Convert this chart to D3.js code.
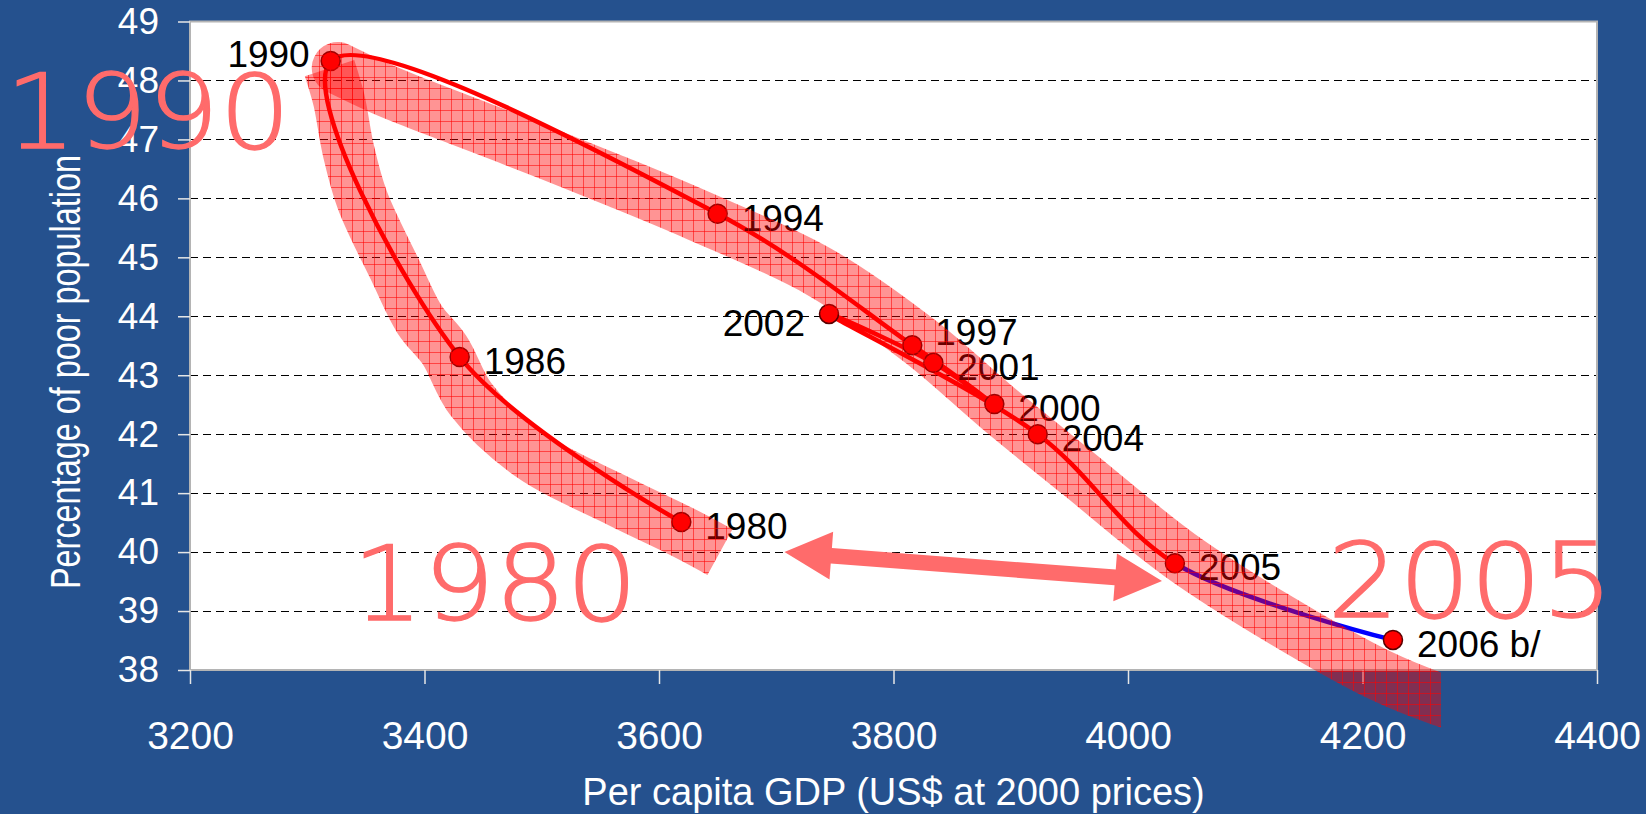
<!DOCTYPE html>
<html>
<head>
<meta charset="utf-8">
<script src="https://cdn.jsdelivr.net/npm/d3@7"></script>
<style>
  body { margin: 0; background: #25518e; }
  svg { display: block; }
</style>
</head>
<body>
<svg id="chart"></svg>
<script>
// Data ////////////////////////////////////////////////////////////////

var years = ["1980", "1986", "1990", "1994", "1997", "2000", "2001", "2002", "2004", "2005", "2006 b/"];
var gdp = [3619, 3430, 3320, 3650, 3816, 3886, 3834, 3745, 3923, 4040, 4226];
var poor = [40.51, 43.31, 48.33, 45.74, 43.51, 42.51, 43.21, 44.04, 42.0, 39.81, 38.51];

var xTicks = [3200, 3400, 3600, 3800, 4000, 4200, 4400];
var yTicks = [38, 39, 40, 41, 42, 43, 44, 45, 46, 47, 48, 49];

// hand drawn highlight (data units)
var bandA = [[3652, 40.0], [3620, 40.34], [3567, 40.85], [3490, 41.65], [3440, 42.58], [3417, 43.43],
             [3396, 43.94], [3375, 44.78], [3347, 45.97], [3335, 46.82], [3327, 47.67], [3319, 48.21]];
var bandB = [[3326, 48.21], [3362, 47.87], [3390, 47.64], [3475, 46.99], [3561, 46.31], [3632, 45.72],
             [3737, 44.75], [3823, 43.57], [3891, 42.41], [3959, 41.31], [4044, 39.95], [4130, 38.85],
             [4215, 37.91], [4267, 37.49], [4300, 37.3]];
var bandBCut = 4267;
var arrowEnds = [[3707, 40.0], [4029, 39.51]];
var bigYears = ["1990", "1980", "2005"];
var bigYearPos = [[3164, 46.85], [3460, 38.85], [4292, 38.9]];

// Setup ////////////////////////////////////////////////////////////////

var width = 1646, height = 814;
var svg = d3.select("#chart").attr("width", width).attr("height", height);

var x = d3.scaleLinear().domain([3200, 4400]).range([190, 1597]);
var y = d3.scaleLinear().domain([38, 49]).range([670, 21.5]);

// Plot area
svg.append("rect")
    .attr("x", x(3200)).attr("y", y(49))
    .attr("width", x(4400) - x(3200)).attr("height", y(38) - y(49))
    .attr("fill", "#fff");

// Gridlines
svg.selectAll(".grid")
    .data(yTicks.slice(1, -1))
    .enter()
    .append("line")
        .attr("x1", x(3200)).attr("x2", x(4400))
        .attr("y1", function(d) { return Math.round(y(d)) + 0.5 })
        .attr("y2", function(d) { return Math.round(y(d)) + 0.5 })
        .attr("stroke", "#000").attr("stroke-width", 1)
        .attr("stroke-dasharray", "8,5");

// Plot border
svg.append("rect")
    .attr("x", x(3200)).attr("y", y(49))
    .attr("width", x(4400) - x(3200)).attr("height", y(38) - y(49))
    .attr("fill", "none").attr("stroke", "#b4b4b4").attr("stroke-width", 2);

// Axes
var yAxis = d3.axisLeft(y).tickValues(yTicks).tickSize(12).tickPadding(19);
var xAxis = d3.axisBottom(x).tickValues(xTicks).tickFormat(d3.format("d")).tickSize(14).tickPadding(37);

var gy = svg.append("g").attr("transform", "translate(" + x(3200) + ",0)").call(yAxis);
var gx = svg.append("g").attr("transform", "translate(0," + y(38) + ")").call(xAxis);
[gy, gx].forEach(function(g) {
    g.select(".domain").remove();
    g.selectAll("line").attr("stroke", "#e6e6e6").attr("stroke-width", 1.5);
    g.selectAll("text").attr("fill", "#fff").attr("font-family", "Liberation Sans, Arial, sans-serif");
});
gy.selectAll("text").attr("font-size", 37);
gx.selectAll("text").attr("font-size", 39);

// Axis titles
svg.append("text")
    .attr("x", (x(3200) + x(4400)) / 2).attr("y", 805)
    .attr("text-anchor", "middle").attr("fill", "#fff")
    .attr("font-family", "Liberation Sans, Arial, sans-serif").attr("font-size", 38)
    .text("Per capita GDP (US$ at 2000 prices)");

svg.append("text")
    .attr("transform", "translate(80,372) rotate(-90)")
    .attr("text-anchor", "middle").attr("fill", "#fff")
    .attr("font-family", "Liberation Sans, Arial, sans-serif").attr("font-size", 42)
    .attr("textLength", 434).attr("lengthAdjust", "spacingAndGlyphs")
    .text("Percentage of poor population");

// Lines ////////////////////////////////////////////////////////////////

var idx = d3.range(years.length);
var last = years.length - 2; // 2005, where red turns to blue
var line = d3.line()
    .x(function(i) { return x(gdp[i]) })
    .y(function(i) { return y(poor[i]) })
    .curve(d3.curveCatmullRom.alpha(0.5));

var defs = svg.append("defs");
defs.append("clipPath").attr("id", "clipRed")
    .append("rect").attr("x", 0).attr("y", 0).attr("width", x(gdp[last])).attr("height", height);
defs.append("clipPath").attr("id", "clipBlue")
    .append("rect").attr("x", x(gdp[last])).attr("y", 0).attr("width", width).attr("height", height);
defs.append("clipPath").attr("id", "clipBand")
    .append("rect").attr("x", 0).attr("y", 0).attr("width", x(bandBCut)).attr("height", height);

svg.append("path").attr("d", line(idx))
    .attr("fill", "none").attr("stroke", "#0000ff").attr("stroke-width", 4.5)
    .attr("clip-path", "url(#clipBlue)");
svg.append("path").attr("d", line(idx))
    .attr("fill", "none").attr("stroke", "#ff0000").attr("stroke-width", 4.5)
    .attr("clip-path", "url(#clipRed)");

// Markers
svg.selectAll(".marker")
    .data(idx)
    .enter()
    .append("circle")
        .attr("cx", function(i) { return x(gdp[i]) })
        .attr("cy", function(i) { return y(poor[i]) })
        .attr("r", 9.5)
        .attr("fill", "#ff0000").attr("stroke", "#5a0000").attr("stroke-width", 1.5);

// Point labels
var labelPos = {
    "1990": {dx: -21, dy: 6, anchor: "end"},
    "2002": {dx: -24, dy: 22, anchor: "end"},
    "1997": {dx: 23, dy: 0, anchor: "start"}
};
var defaultPos = {dx: 24, dy: 17, anchor: "start"};
svg.selectAll(".label")
    .data(idx)
    .enter()
    .append("text")
        .attr("x", function(i) { return x(gdp[i]) + (labelPos[years[i]] || defaultPos).dx })
        .attr("y", function(i) { return y(poor[i]) + (labelPos[years[i]] || defaultPos).dy })
        .attr("text-anchor", function(i) { return (labelPos[years[i]] || defaultPos).anchor })
        .attr("font-family", "Liberation Sans, Arial, sans-serif").attr("font-size", 37)
        .attr("fill", "#000")
        .text(function(i) { return years[i] });

// Annotations //////////////////////////////////////////////////////////

var pink = "#ff6b6b";

// Double arrow
var p0 = [x(arrowEnds[0][0]), y(arrowEnds[0][1])];
var p1 = [x(arrowEnds[1][0]), y(arrowEnds[1][1])];
var len = Math.hypot(p1[0] - p0[0], p1[1] - p0[1]);
var u = [(p1[0] - p0[0]) / len, (p1[1] - p0[1]) / len];
var n = [-u[1], u[0]];
var headL = 47, headW = 24, shaftW = 7.8;
function pt(base, along, across) {
    return [base[0] + u[0] * along + n[0] * across, base[1] + u[1] * along + n[1] * across];
}
var arrowPts = [
    p0, pt(p0, headL, headW), pt(p0, headL, shaftW), pt(p1, -headL, shaftW), pt(p1, -headL, headW),
    p1, pt(p1, -headL, -headW), pt(p1, -headL, -shaftW), pt(p0, headL, -shaftW), pt(p0, headL, -headW)
];
svg.append("polygon")
    .attr("points", arrowPts.map(function(p) { return p.join(",") }).join(" "))
    .attr("fill", pink);

// Hatched highlight band
var pat = defs.append("pattern").attr("id", "hatch")
    .attr("patternUnits", "userSpaceOnUse").attr("width", 11).attr("height", 11);
pat.append("rect").attr("width", 11).attr("height", 11).attr("fill", "rgba(255,0,0,0.42)");
pat.append("line").attr("x1", 0.5).attr("x2", 0.5).attr("y1", 0).attr("y2", 11)
    .attr("stroke", "rgba(255,0,0,0.55)").attr("stroke-width", 1);
pat.append("line").attr("y1", 0.5).attr("y2", 0.5).attr("x1", 0).attr("x2", 11)
    .attr("stroke", "rgba(255,0,0,0.55)").attr("stroke-width", 1);

var bandLine = d3.line()
    .x(function(d) { return x(d[0]) })
    .y(function(d) { return y(d[1]) })
    .curve(d3.curveCatmullRom.alpha(0.5));

svg.append("path")
    .attr("d", bandLine(bandA))
    .attr("fill", "none").attr("stroke", "url(#hatch)")
    .attr("stroke-width", 52).attr("stroke-linejoin", "round");
svg.append("path")
    .attr("d", bandLine(bandB))
    .attr("fill", "none").attr("stroke", "url(#hatch)")
    .attr("stroke-width", 52).attr("stroke-linejoin", "round").attr("stroke-linecap", "round")
    .attr("clip-path", "url(#clipBand)");

// Big year captions
svg.selectAll(".big")
    .data(bigYears)
    .enter()
    .append("text")
        .attr("transform", function(d, i) {
            return "translate(" + x(bigYearPos[i][0]) + "," + y(bigYearPos[i][1]) + ") scale(1.08,1)";
        })
        .attr("text-anchor", "middle")
        .attr("font-family", "DejaVu Sans, Verdana, sans-serif")
        .attr("font-weight", 200).attr("font-size", 104)
        .attr("fill", pink).attr("stroke", pink).attr("stroke-width", 1.3)
        .text(function(d) { return d });
</script>
</body>
</html>
